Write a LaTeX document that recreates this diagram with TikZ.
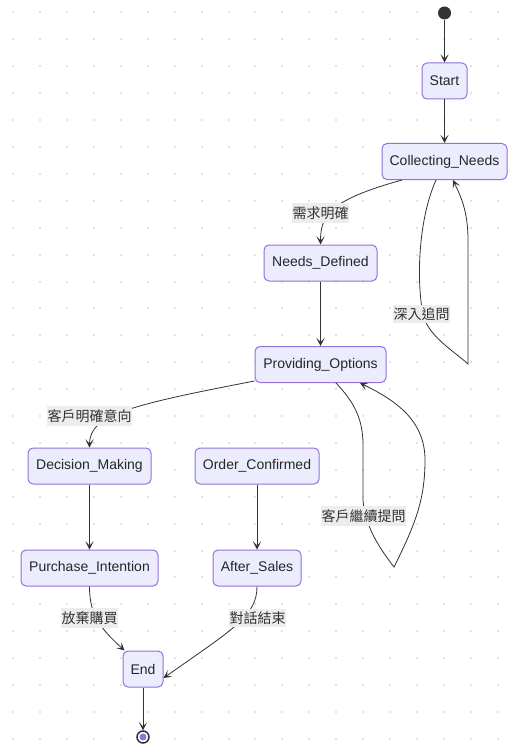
\documentclass[tikz,border=0pt]{standalone}
\usepackage{fontspec}
\setmainfont{Liberation Sans}
\newfontfamily\cjk{Noto Sans CJK TC}
\usetikzlibrary{arrows.meta}
\definecolor{nodefill}{HTML}{ECECFF}
\definecolor{nodeline}{HTML}{9370DB}
\definecolor{ink}{HTML}{333333}
\definecolor{lblbg}{HTML}{EDEDED}
\definecolor{griddot}{HTML}{E2E2E2}
\begin{document}
\begin{tikzpicture}[x=1pt,y=-1pt,
  state/.style={draw=nodeline, fill=nodefill, rounded corners=5pt, line width=1pt,
    font=\fontsize{14}{16}\selectfont, text=black!85, inner sep=0pt, minimum height=36pt},
  trans/.style={draw=ink, line width=0.8pt, -{Stealth[length=8pt,width=8pt,inset=4pt]}},
  lbl/.style={fill=lblbg, text=ink, font=\cjk\fontsize{14}{16}\selectfont,
    inner xsep=0.5pt, inner ysep=3pt}]
% canvas and dotted grid
\fill[white] (0,0) rectangle (518,754);
\foreach \i in {0,...,18}
  \foreach \j in {0,...,27}
    \fill[griddot] (12.3+26.9*\i, 11.5+26.9*\j) rectangle ++(2,2);

% states
\node[circle, fill=ink, minimum size=13pt, inner sep=0pt] (init) at (444.5,13) {};
\node[state, minimum width=45pt]  (start) at (444.5,81)  {Start};
\node[state, minimum width=125pt] (cn)    at (444.5,161.5) {Collecting\_Needs};
\node[state, minimum width=113pt] (nd)    at (320.5,263) {Needs\_Defined};
\node[state, minimum width=131pt] (po)    at (320.5,364.5) {Providing\_Options};
\node[state, minimum width=123pt] (dm)    at (89.5,466)  {Decision\_Making};
\node[state, minimum width=124pt] (oc)    at (257,466)   {Order\_Confirmed};
\node[state, minimum width=137pt] (pi)    at (89.5,568)  {Purchase\_Intention};
\node[state, minimum width=88pt]  (as)    at (257,568)   {After\_Sales};
\node[state, minimum width=40pt]  (end)   at (143,669)   {End};
\node[circle, draw=ink, line width=1.5pt, fill=white, minimum size=12pt, inner sep=0pt] (final) at (143,737) {};
\fill[nodeline] (final.center) circle (3.5);

% transitions
\draw[trans] (init) -- (start);
\draw[trans] (start) -- (cn);
\draw[trans] ([xshift=-42.5pt]cn.south) .. controls (330,200) and (320.5,215) .. (nd.north);
\draw[trans] ([xshift=-8.5pt]cn.south) .. controls (416,225) and (417,292) .. (424,318)
  .. controls (431,338) and (455,352) .. (468,364) -- (468,240)
  .. controls (468,210) and (460,195) .. ([xshift=8.5pt]cn.south);
\draw[trans] (nd) -- (po);
\draw[trans] ([yshift=2pt]po.south west) .. controls (130,405) and (89.5,415) .. (dm.north);
\draw[trans] ([xshift=15.5pt]po.south) .. controls (355,403) and (363,420) .. (363,445) -- (363,500)
  .. controls (365,530) and (385,555) .. (394,567)
  .. controls (415,525) and (425,500) .. (425,460)
  .. controls (425,420) and (395,400) .. ([xshift=39.5pt]po.south);
\draw[trans] (dm) -- (pi);
\draw[trans] (oc) -- (as);
\draw[trans] (pi.south) .. controls (89.5,615) and (100,628) .. ([xshift=2pt]end.north west);
\draw[trans] (as.south) .. controls (257,615) and (235,628) .. ([yshift=-9pt]end.east);
\draw[trans] (end) -- (final);

% transition labels
\node[lbl] (l1) at (320.5,213) {需求明確};
\node[lbl] (l2) at (421.5,314) {深入追問};
\node[lbl] (l3) at (89.5,416)  {客戶明確意向};
\node[lbl] (l4) at (363.5,516) {客戶繼續提問};
\node[lbl] (l5) at (89.5,618)  {放棄購買};
\node[lbl] (l6) at (257.5,618) {對話結束};
\end{tikzpicture}
\end{document}
